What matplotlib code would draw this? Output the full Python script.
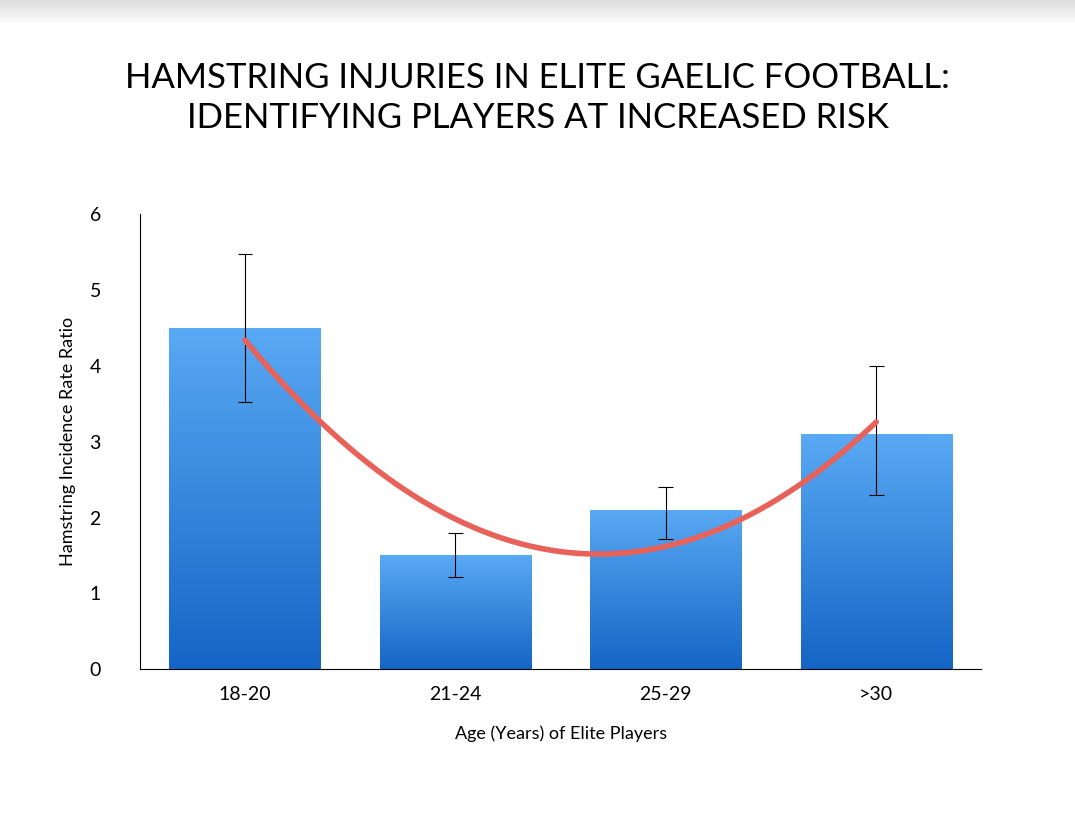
import numpy as np
import matplotlib
matplotlib.use('Agg')
import matplotlib.pyplot as plt
from matplotlib.patches import Rectangle

matplotlib.rc('font', family='Lato')

categories = ['18-20', '21-24', '25-29', '>30']
ratios = [4.5, 1.5, 2.1, 3.1]
err_low = [3.52, 1.22, 1.72, 2.3]
err_high = [5.48, 1.8, 2.4, 4.0]

fig = plt.figure(figsize=(10.75, 8.18), dpi=100)

# grey shadow strip at top
bg = fig.add_axes([0, 0, 1, 1], zorder=-1)
grad = np.linspace(0.86, 1.0, 40).reshape(-1, 1)
bg.imshow(np.ones((200, 1)), cmap='gray', vmin=0, vmax=1, extent=[0, 1, 0, 1], aspect='auto')
bg.imshow(grad, cmap='gray', vmin=0, vmax=1, extent=[0, 1, 0.97, 1.0], aspect='auto')
bg.set_xlim(0, 1); bg.set_ylim(0, 1)
bg.axis('off')

ax = fig.add_axes([0.130, 0.182, 0.783, 0.556])
x = np.arange(len(categories))
width = 0.72
bars = ax.bar(x, ratios, width=width, color='none')

cmap = matplotlib.colors.LinearSegmentedColormap.from_list('b', ['#1565c6', '#59a9f4'])
for b in bars:
    im = ax.imshow(np.linspace(0, 1, 100).reshape(-1, 1), cmap=cmap, origin='lower',
                   extent=[b.get_x(), b.get_x() + b.get_width(), 0, b.get_height()],
                   aspect='auto', zorder=1)
    im.set_clip_path(Rectangle((b.get_x(), 0), b.get_width(), b.get_height(), transform=ax.transData))

ratios_a = np.array(ratios)
yerr = [ratios_a - np.array(err_low), np.array(err_high) - ratios_a]
# error bars are centred on trend-ish midpoints; draw from low/high directly
ax.vlines(x, err_low, err_high, color='black', lw=0.8, zorder=3)
ax.hlines(err_low, x - 0.035, x + 0.035, color='black', lw=0.8, zorder=3)
ax.hlines(err_high, x - 0.035, x + 0.035, color='black', lw=0.8, zorder=3)

coef = np.polyfit(x, ratios, 2)
xs = np.linspace(0, 3, 200)
ax.plot(xs, np.polyval(coef, xs), color='#e8625a', lw=4, zorder=4, solid_capstyle='round')

ax.set_xlim(-0.5, 3.5)
ax.set_ylim(0, 6)
ax.set_xticks(x)
ax.set_xticklabels(categories, fontsize=14)
ax.set_yticks(range(7))
ax.tick_params(length=0, labelsize=14, pad=12)
ax.tick_params(axis='y', pad=28)
for s in ['top', 'right']:
    ax.spines[s].set_visible(False)
ax.set_ylabel('Hamstring Incidence Rate Ratio', fontsize=13, labelpad=10)
ax.set_xlabel('Age (Years) of Elite Players', fontsize=13, labelpad=16)

fig.text(0.5, 0.88, 'HAMSTRING INJURIES IN ELITE GAELIC FOOTBALL:\nIDENTIFYING PLAYERS AT INCREASED RISK',
         ha='center', va='center', fontsize=25, linespacing=1.3)

fig.savefig('out.png', dpi=100)
